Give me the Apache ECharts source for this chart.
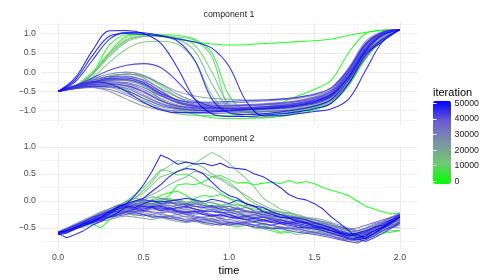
<!DOCTYPE html>
<html><head><meta charset="utf-8">
<script src="https://cdn.jsdelivr.net/npm/echarts@6/dist/echarts.min.js"></script>
<style>html,body{margin:0;padding:0;background:#fff}#c{width:490px;height:280px}</style>
</head><body><div id="c"></div>
<script>
// ---------- data ----------
const iterations = [0,1000,2000,5000,7000,9000,12000,15000,18000,20000,21000,22000,24000,26000,27000,28000,30000,31000,32000,34000,35000,36000,37000,38000,39000,40000,41000,42000,43000,44000,45000,47000,48000,49000,50000];
const time1 = [0,0.1,0.2,0.3,0.4,0.5,0.6,0.7,0.8,0.9,1,1.1,1.2,1.3,1.4,1.5,1.6,1.7,1.8,1.9,2];
const time2 = [0,0.05,0.1,0.15,0.2,0.25,0.3,0.35,0.4,0.45,0.5,0.55,0.6,0.65,0.7,0.75,0.8,0.85,0.9,0.95,1,1.05,1.1,1.15,1.2,1.25,1.3,1.35,1.4,1.45,1.5,1.55,1.6,1.65,1.7,1.75,1.8,1.85,1.9,1.95,2];
const xTickLabels = [0,0.5,1,1.5,2];
const xMinor = [0.25,0.75,1.25,1.75];
const y1Labels = [-1,-0.5,0,0.5,1];
const y1Minor = [-1.25,-0.75,-0.25,0.25,0.75,1.25];
const y2Labels = [-0.5,0,0.5,1];
const y2Minor = [-0.75,-0.25,0.25,0.75];
const legendLabels = [0,10000,20000,30000,40000,50000];

// component 1 (one array per iteration)
const c1_0     = [-0.5,-0.38,-0.05,0.7,0.97,0.98,0.93,0.85,0.78,0.73,0.7,0.71,0.74,0.76,0.79,0.81,0.86,0.95,1.03,1.08,1.1];
const c1_1000  = [-0.5,-0.37,-0.08,0.5,0.92,0.98,0.97,0.95,0.85,0.5,-0.6,-0.95,-0.92,-0.8,-0.62,-0.45,-0.2,0.5,1.0,1.09,1.1];
const c1_2000  = [-0.5,-0.4,-0.3,-0.2,-0.2,-0.35,-0.7,-0.95,-1.1,-1.18,-1.2,-1.2,-1.19,-1.15,-1.08,-0.98,-0.8,-0.35,0.35,0.85,1.1];
const c1_5000  = [-0.5,-0.42,-0.3,-0.15,-0.05,-0.1,-0.35,-0.65,-0.85,-0.95,-1.0,-1.0,-0.98,-0.95,-0.9,-0.82,-0.65,-0.15,0.55,0.88,1.1];
const c1_7000  = [-0.5,-0.42,-0.35,-0.35,-0.45,-0.7,-0.95,-1.08,-1.12,-1.13,-1.12,-1.1,-1.08,-1.05,-1.0,-0.92,-0.75,-0.3,0.35,0.85,1.1];
const c1_9000  = [-0.5,-0.35,0.0,0.5,0.85,0.95,0.93,0.88,0.7,0.0,-0.85,-1.05,-1.08,-1.05,-1.0,-0.9,-0.7,-0.15,0.6,0.95,1.1];
const c1_12000 = [-0.5,-0.38,-0.15,0.25,0.6,0.78,0.8,0.72,0.3,-0.6,-1.05,-1.15,-1.15,-1.1,-1.02,-0.92,-0.75,-0.3,0.45,0.85,1.1];
const c1_15000 = [-0.5,-0.36,-0.05,0.45,0.82,0.93,0.94,0.9,0.82,0.4,-0.95,-1.15,-1.18,-1.12,-1.05,-0.95,-0.8,-0.3,0.45,0.85,1.1];
const c1_18000 = [-0.5,-0.37,-0.05,0.4,0.78,0.92,0.95,0.85,0.55,-0.3,-0.95,-1.1,-1.1,-1.05,-0.98,-0.9,-0.75,-0.3,0.4,0.8,1.1];
const c1_20000 = [-0.5,-0.4,-0.3,-0.25,-0.3,-0.5,-0.75,-0.9,-0.95,-0.97,-0.98,-0.97,-0.95,-0.92,-0.87,-0.78,-0.6,-0.1,0.6,0.98,1.1];
const c1_21000 = [-0.5,-0.38,-0.22,-0.1,-0.05,-0.12,-0.3,-0.5,-0.62,-0.68,-0.7,-0.72,-0.72,-0.7,-0.66,-0.58,-0.4,0.1,0.75,1.03,1.1];
const c1_22000 = [-0.5,-0.38,-0.2,-0.1,-0.05,-0.15,-0.45,-0.75,-0.88,-0.92,-0.93,-0.93,-0.92,-0.9,-0.85,-0.75,-0.55,0.0,0.7,1.02,1.1];
const c1_24000 = [-0.5,-0.43,-0.38,-0.4,-0.55,-0.75,-0.9,-0.98,-1.02,-1.03,-1.03,-1.02,-1.0,-0.98,-0.93,-0.85,-0.68,-0.2,0.45,0.92,1.1];
const c1_26000 = [-0.5,-0.4,-0.28,-0.2,-0.22,-0.35,-0.6,-0.8,-0.88,-0.9,-0.88,-0.86,-0.84,-0.8,-0.74,-0.64,-0.45,0.1,0.8,1.05,1.1];
const c1_27000 = [-0.5,-0.42,-0.4,-0.5,-0.7,-0.88,-0.97,-1.0,-1.0,-0.98,-0.95,-0.93,-0.9,-0.87,-0.82,-0.72,-0.55,-0.05,0.62,1.0,1.1];
const c1_28000 = [-0.5,-0.41,-0.33,-0.3,-0.38,-0.58,-0.8,-0.92,-0.97,-0.98,-0.97,-0.95,-0.93,-0.9,-0.85,-0.76,-0.58,-0.05,0.65,1.0,1.1];
const c1_30000 = [-0.5,-0.39,-0.25,-0.15,-0.12,-0.2,-0.42,-0.65,-0.78,-0.85,-0.87,-0.87,-0.86,-0.84,-0.8,-0.72,-0.55,-0.05,0.6,0.98,1.1];
const c1_31000 = [-0.5,-0.37,-0.18,-0.05,0.0,-0.08,-0.3,-0.58,-0.75,-0.82,-0.8,-0.78,-0.75,-0.72,-0.68,-0.6,-0.45,0.05,0.72,1.02,1.1];
const c1_32000 = [-0.5,-0.42,-0.35,-0.32,-0.35,-0.5,-0.72,-0.88,-0.95,-1.0,-1.02,-1.03,-1.02,-1.0,-0.96,-0.88,-0.72,-0.25,0.4,0.9,1.1];
const c1_34000 = [-0.5,-0.4,-0.3,-0.22,-0.2,-0.3,-0.55,-0.78,-0.88,-0.9,-0.9,-0.88,-0.85,-0.82,-0.77,-0.68,-0.5,0.03,0.72,1.03,1.1];
const c1_35000 = [-0.5,-0.43,-0.4,-0.45,-0.6,-0.8,-0.95,-1.03,-1.06,-1.07,-1.06,-1.05,-1.03,-1.0,-0.96,-0.88,-0.72,-0.28,0.38,0.88,1.1];
const c1_36000 = [-0.5,-0.41,-0.32,-0.28,-0.3,-0.45,-0.68,-0.85,-0.92,-0.95,-0.95,-0.94,-0.92,-0.88,-0.83,-0.73,-0.55,-0.03,0.67,1.01,1.1];
const c1_37000 = [-0.5,-0.39,-0.27,-0.18,-0.15,-0.25,-0.5,-0.72,-0.82,-0.85,-0.85,-0.84,-0.82,-0.79,-0.74,-0.65,-0.48,0.05,0.75,1.04,1.1];
const c1_38000 = [-0.5,-0.42,-0.36,-0.35,-0.42,-0.62,-0.82,-0.93,-0.98,-1.0,-1.0,-0.99,-0.97,-0.95,-0.9,-0.82,-0.65,-0.15,0.52,0.95,1.1];
const c1_39000 = [-0.5,-0.4,-0.3,-0.25,-0.27,-0.4,-0.62,-0.78,-0.85,-0.87,-0.87,-0.86,-0.84,-0.81,-0.76,-0.67,-0.5,0.0,0.7,1.02,1.1];
const c1_40000 = [-0.5,-0.38,-0.22,-0.12,-0.1,-0.22,-0.5,-0.75,-0.87,-0.92,-0.94,-0.94,-0.93,-0.91,-0.87,-0.79,-0.62,-0.13,0.55,0.96,1.1];
const c1_41000 = [-0.5,-0.41,-0.33,-0.3,-0.35,-0.52,-0.74,-0.88,-0.93,-0.95,-0.94,-0.92,-0.9,-0.86,-0.8,-0.7,-0.52,0.0,0.7,1.02,1.1];
const c1_42000 = [-0.5,-0.4,-0.28,-0.2,-0.2,-0.32,-0.58,-0.8,-0.9,-0.93,-0.93,-0.92,-0.9,-0.87,-0.82,-0.73,-0.56,-0.05,0.63,1.0,1.1];
const c1_43000 = [-0.5,-0.42,-0.37,-0.38,-0.48,-0.68,-0.86,-0.95,-0.99,-1.0,-0.99,-0.97,-0.95,-0.92,-0.87,-0.78,-0.6,-0.1,0.6,0.98,1.1];
const c1_44000 = [-0.5,-0.4,-0.26,-0.16,-0.15,-0.28,-0.55,-0.72,-0.78,-0.78,-0.76,-0.74,-0.72,-0.7,-0.65,-0.57,-0.4,0.08,0.73,1.03,1.1];
const c1_45000 = [-0.5,-0.35,-0.15,0.05,0.18,0.22,0.12,-0.25,-0.7,-0.9,-0.95,-0.96,-0.95,-0.93,-0.88,-0.8,-0.62,-0.13,0.57,0.97,1.1];
const c1_47000 = [-0.5,-0.35,-0.25,-0.3,-0.5,-0.78,-0.98,-1.05,-1.05,-1.03,-1.0,-0.97,-0.94,-0.9,-0.85,-0.76,-0.58,-0.12,0.55,0.97,1.1];
const c1_48000 = [-0.5,-0.25,0.3,0.85,1.03,1.02,0.95,0.8,0.3,-0.7,-1.05,-1.1,-1.08,-1.03,-0.97,-0.88,-0.7,-0.2,0.5,0.85,1.1];
const c1_49000 = [-0.5,-0.2,0.42,0.93,1.0,0.98,0.93,0.86,0.78,0.62,0.15,-0.75,-1.13,-1.13,-1.08,-1.02,-0.95,-0.7,0.05,0.8,1.1];
const c1_50000 = [-0.5,-0.15,0.55,1.07,1.08,1.0,0.75,0.1,-0.7,-1.08,-1.15,-1.15,-1.12,-1.08,-1.03,-0.95,-0.8,-0.3,0.45,0.8,1.1];

// component 2 (one array per iteration)
const c2_0     = [-0.6,-0.55,-0.5,-0.45,-0.42,-0.5,-0.35,-0.25,-0.15,-0.05,-0.03,-0.08,-0.02,0.1,0.3,0.32,0.3,0.35,0.45,0.47,0.4,0.33,0.34,0.3,0.33,0.35,0.32,0.38,0.33,0.36,0.32,0.25,0.2,0.15,0.1,0.0,-0.1,-0.15,-0.2,-0.24,-0.22];
const c2_1000  = [-0.62,-0.58,-0.5,-0.48,-0.4,-0.35,-0.3,-0.22,-0.15,-0.1,-0.05,0.02,0.1,0.15,0.18,0.1,0.0,-0.05,-0.1,-0.08,-0.15,-0.2,-0.28,-0.35,-0.45,-0.5,-0.58,-0.55,-0.5,-0.48,-0.52,-0.55,-0.6,-0.65,-0.7,-0.72,-0.7,-0.62,-0.55,-0.45,-0.38];
const c2_2000  = [-0.6,-0.55,-0.5,-0.45,-0.38,-0.32,-0.28,-0.2,-0.12,-0.08,-0.05,-0.08,-0.02,0.0,-0.05,-0.08,0.05,0.1,0.08,0.12,0.05,0.0,-0.05,-0.1,-0.18,-0.22,-0.3,-0.32,-0.38,-0.42,-0.45,-0.5,-0.55,-0.58,-0.62,-0.68,-0.6,-0.55,-0.5,-0.45,-0.4];
const c2_5000  = [-0.6,-0.52,-0.45,-0.38,-0.3,-0.24,-0.15,-0.08,-0.02,0.0,0.03,-0.02,0.02,0.05,0.0,-0.03,-0.05,0.0,-0.04,-0.08,-0.1,-0.06,-0.12,-0.15,-0.18,-0.2,-0.25,-0.22,-0.28,-0.33,-0.35,-0.4,-0.45,-0.5,-0.55,-0.6,-0.58,-0.5,-0.47,-0.4,-0.38];
const c2_7000  = [-0.6,-0.55,-0.5,-0.42,-0.35,-0.3,-0.25,-0.2,-0.22,-0.28,-0.25,-0.3,-0.32,-0.28,-0.35,-0.38,-0.35,-0.4,-0.38,-0.42,-0.45,-0.48,-0.45,-0.5,-0.52,-0.55,-0.6,-0.58,-0.62,-0.6,-0.58,-0.55,-0.6,-0.65,-0.7,-0.75,-0.72,-0.65,-0.6,-0.58,-0.55];
const c2_9000  = [-0.58,-0.52,-0.46,-0.4,-0.35,-0.3,-0.22,-0.12,0.0,0.12,0.25,0.4,0.58,0.55,0.48,0.5,0.42,0.3,0.25,0.15,0.05,-0.05,-0.1,-0.2,-0.25,-0.3,-0.35,-0.4,-0.45,-0.48,-0.5,-0.55,-0.6,-0.65,-0.7,-0.68,-0.65,-0.6,-0.58,-0.55,-0.55];
const c2_12000 = [-0.58,-0.52,-0.45,-0.38,-0.35,-0.28,-0.2,-0.1,0.0,0.05,0.15,0.3,0.45,0.5,0.55,0.62,0.7,0.8,0.9,0.82,0.7,0.55,0.42,0.25,0.05,-0.05,-0.15,-0.2,-0.28,-0.3,-0.35,-0.4,-0.45,-0.5,-0.55,-0.6,-0.58,-0.52,-0.45,-0.4,-0.35];
const c2_15000 = [-0.6,-0.55,-0.48,-0.42,-0.36,-0.3,-0.22,-0.15,-0.05,0.05,0.2,0.35,0.55,0.65,0.75,0.72,0.7,0.62,0.5,0.42,0.35,0.22,0.05,-0.05,-0.12,-0.18,-0.22,-0.28,-0.3,-0.35,-0.4,-0.42,-0.48,-0.52,-0.55,-0.58,-0.55,-0.5,-0.45,-0.4,-0.35];
const c2_18000 = [-0.6,-0.54,-0.47,-0.4,-0.34,-0.28,-0.2,-0.12,-0.05,0.0,0.05,0.12,0.2,0.3,0.38,0.45,0.55,0.52,0.45,0.4,0.3,0.2,0.1,0.0,-0.08,-0.15,-0.2,-0.25,-0.3,-0.36,-0.42,-0.48,-0.55,-0.6,-0.65,-0.62,-0.6,-0.55,-0.5,-0.48,-0.5];
const c2_20000 = [-0.58,-0.5,-0.44,-0.36,-0.3,-0.22,-0.18,-0.1,-0.08,-0.12,-0.05,-0.1,-0.15,-0.12,-0.2,-0.18,-0.25,-0.22,-0.28,-0.25,-0.3,-0.27,-0.32,-0.3,-0.35,-0.33,-0.38,-0.4,-0.42,-0.45,-0.48,-0.5,-0.55,-0.58,-0.62,-0.6,-0.58,-0.5,-0.45,-0.4,-0.35];
const c2_21000 = [-0.58,-0.5,-0.42,-0.35,-0.28,-0.2,-0.15,-0.08,-0.02,0.05,0.02,0.08,0.05,0.0,0.03,-0.02,0.0,-0.05,-0.02,-0.08,-0.05,-0.1,-0.08,-0.12,-0.15,-0.18,-0.2,-0.22,-0.25,-0.3,-0.32,-0.35,-0.4,-0.45,-0.5,-0.55,-0.52,-0.45,-0.4,-0.35,-0.3];
const c2_22000 = [-0.62,-0.55,-0.48,-0.42,-0.35,-0.3,-0.22,-0.2,-0.15,-0.1,-0.08,-0.05,-0.1,-0.08,-0.12,-0.1,-0.15,-0.18,-0.15,-0.2,-0.22,-0.2,-0.25,-0.28,-0.25,-0.3,-0.32,-0.35,-0.38,-0.4,-0.45,-0.48,-0.52,-0.55,-0.6,-0.65,-0.62,-0.55,-0.48,-0.42,-0.35];
const c2_24000 = [-0.6,-0.52,-0.45,-0.4,-0.32,-0.25,-0.2,-0.12,-0.05,0.0,-0.02,0.02,-0.05,-0.1,-0.08,-0.12,-0.1,-0.15,-0.12,-0.18,-0.15,-0.2,-0.22,-0.25,-0.28,-0.3,-0.28,-0.32,-0.35,-0.38,-0.42,-0.45,-0.5,-0.55,-0.58,-0.55,-0.52,-0.45,-0.4,-0.32,-0.25];
const c2_26000 = [-0.6,-0.55,-0.5,-0.42,-0.38,-0.32,-0.25,-0.22,-0.18,-0.2,-0.22,-0.25,-0.22,-0.28,-0.3,-0.28,-0.32,-0.3,-0.35,-0.32,-0.38,-0.35,-0.4,-0.38,-0.42,-0.45,-0.42,-0.48,-0.5,-0.52,-0.55,-0.58,-0.62,-0.65,-0.7,-0.68,-0.62,-0.55,-0.5,-0.45,-0.4];
const c2_27000 = [-0.62,-0.58,-0.52,-0.48,-0.42,-0.38,-0.35,-0.3,-0.28,-0.3,-0.32,-0.35,-0.3,-0.35,-0.38,-0.4,-0.38,-0.42,-0.45,-0.42,-0.45,-0.4,-0.42,-0.45,-0.48,-0.45,-0.5,-0.52,-0.5,-0.55,-0.58,-0.6,-0.62,-0.65,-0.68,-0.72,-0.68,-0.62,-0.55,-0.5,-0.45];
const c2_28000 = [-0.58,-0.52,-0.45,-0.38,-0.3,-0.25,-0.18,-0.12,-0.08,-0.05,-0.08,-0.1,-0.05,-0.08,-0.12,-0.1,-0.05,-0.08,-0.12,-0.15,-0.1,-0.15,-0.18,-0.2,-0.22,-0.25,-0.3,-0.28,-0.32,-0.35,-0.38,-0.42,-0.45,-0.5,-0.52,-0.55,-0.5,-0.45,-0.38,-0.3,-0.22];
const c2_30000 = [-0.62,-0.56,-0.5,-0.45,-0.4,-0.35,-0.3,-0.25,-0.22,-0.2,-0.18,-0.22,-0.25,-0.28,-0.25,-0.3,-0.35,-0.38,-0.35,-0.4,-0.42,-0.45,-0.42,-0.45,-0.48,-0.5,-0.48,-0.5,-0.52,-0.55,-0.58,-0.6,-0.65,-0.7,-0.72,-0.75,-0.7,-0.62,-0.55,-0.48,-0.4];
const c2_31000 = [-0.6,-0.52,-0.44,-0.38,-0.3,-0.22,-0.15,-0.08,-0.05,-0.08,-0.02,0.0,0.05,0.02,0.0,-0.05,-0.02,-0.08,-0.12,-0.1,-0.15,-0.12,-0.18,-0.22,-0.2,-0.25,-0.28,-0.3,-0.35,-0.38,-0.4,-0.45,-0.48,-0.52,-0.55,-0.58,-0.55,-0.48,-0.4,-0.32,-0.25];
const c2_32000 = [-0.6,-0.53,-0.46,-0.38,-0.33,-0.26,-0.2,-0.15,-0.1,-0.12,-0.08,-0.05,-0.08,-0.02,-0.05,-0.08,-0.1,-0.12,-0.1,-0.15,-0.18,-0.2,-0.18,-0.22,-0.25,-0.22,-0.28,-0.3,-0.32,-0.35,-0.4,-0.42,-0.45,-0.48,-0.52,-0.55,-0.5,-0.42,-0.38,-0.3,-0.25];
const c2_34000 = [-0.6,-0.55,-0.48,-0.4,-0.35,-0.28,-0.22,-0.18,-0.15,-0.18,-0.2,-0.15,-0.18,-0.2,-0.22,-0.25,-0.22,-0.25,-0.28,-0.3,-0.28,-0.32,-0.3,-0.35,-0.38,-0.35,-0.4,-0.42,-0.45,-0.48,-0.5,-0.52,-0.58,-0.6,-0.65,-0.62,-0.58,-0.52,-0.45,-0.38,-0.3];
const c2_35000 = [-0.6,-0.56,-0.5,-0.46,-0.4,-0.36,-0.3,-0.26,-0.22,-0.25,-0.28,-0.25,-0.3,-0.32,-0.3,-0.35,-0.38,-0.35,-0.32,-0.38,-0.4,-0.42,-0.4,-0.45,-0.48,-0.5,-0.52,-0.5,-0.55,-0.58,-0.6,-0.62,-0.65,-0.7,-0.75,-0.72,-0.68,-0.6,-0.55,-0.48,-0.42];
const c2_36000 = [-0.62,-0.55,-0.48,-0.42,-0.35,-0.28,-0.22,-0.15,-0.12,-0.08,-0.1,-0.12,-0.15,-0.12,-0.18,-0.15,-0.2,-0.18,-0.15,-0.2,-0.25,-0.22,-0.28,-0.3,-0.28,-0.33,-0.35,-0.38,-0.4,-0.42,-0.45,-0.5,-0.52,-0.55,-0.6,-0.65,-0.6,-0.52,-0.45,-0.38,-0.32];
const c2_37000 = [-0.6,-0.54,-0.48,-0.42,-0.38,-0.32,-0.28,-0.25,-0.2,-0.22,-0.25,-0.28,-0.3,-0.28,-0.32,-0.35,-0.32,-0.35,-0.38,-0.35,-0.4,-0.38,-0.42,-0.45,-0.42,-0.45,-0.48,-0.5,-0.52,-0.55,-0.58,-0.62,-0.65,-0.68,-0.72,-0.7,-0.65,-0.6,-0.52,-0.45,-0.38];
const c2_38000 = [-0.58,-0.52,-0.45,-0.4,-0.32,-0.28,-0.2,-0.15,-0.1,-0.05,-0.02,-0.05,0.0,-0.05,-0.02,-0.08,-0.05,-0.1,-0.08,-0.12,-0.1,-0.15,-0.12,-0.18,-0.2,-0.22,-0.25,-0.28,-0.3,-0.32,-0.35,-0.38,-0.42,-0.48,-0.52,-0.5,-0.45,-0.4,-0.35,-0.3,-0.25];
const c2_39000 = [-0.6,-0.55,-0.5,-0.43,-0.38,-0.3,-0.25,-0.2,-0.18,-0.15,-0.18,-0.2,-0.22,-0.2,-0.25,-0.22,-0.28,-0.3,-0.28,-0.32,-0.35,-0.3,-0.35,-0.32,-0.38,-0.4,-0.38,-0.42,-0.45,-0.48,-0.5,-0.55,-0.6,-0.62,-0.68,-0.72,-0.65,-0.58,-0.5,-0.42,-0.35];
const c2_40000 = [-0.62,-0.56,-0.5,-0.45,-0.38,-0.32,-0.28,-0.22,-0.18,-0.2,-0.15,-0.12,-0.15,-0.18,-0.2,-0.25,-0.3,-0.32,-0.38,-0.42,-0.45,-0.42,-0.38,-0.4,-0.42,-0.45,-0.4,-0.42,-0.45,-0.48,-0.5,-0.52,-0.55,-0.58,-0.62,-0.65,-0.6,-0.55,-0.48,-0.4,-0.33];
const c2_41000 = [-0.6,-0.54,-0.47,-0.4,-0.34,-0.27,-0.22,-0.15,-0.1,-0.08,-0.12,-0.1,-0.08,-0.12,-0.15,-0.12,-0.15,-0.18,-0.2,-0.22,-0.2,-0.25,-0.28,-0.25,-0.3,-0.32,-0.35,-0.38,-0.36,-0.4,-0.45,-0.48,-0.52,-0.58,-0.62,-0.6,-0.55,-0.5,-0.42,-0.35,-0.28];
const c2_42000 = [-0.6,-0.55,-0.5,-0.44,-0.38,-0.34,-0.3,-0.28,-0.25,-0.22,-0.25,-0.3,-0.28,-0.32,-0.35,-0.38,-0.35,-0.4,-0.42,-0.45,-0.4,-0.42,-0.45,-0.48,-0.5,-0.52,-0.5,-0.55,-0.58,-0.6,-0.62,-0.65,-0.68,-0.72,-0.75,-0.78,-0.72,-0.65,-0.55,-0.48,-0.4];
const c2_43000 = [-0.62,-0.55,-0.48,-0.4,-0.33,-0.25,-0.2,-0.12,-0.08,-0.02,0.02,0.0,-0.05,-0.02,-0.08,-0.05,-0.1,-0.12,-0.1,-0.15,-0.18,-0.15,-0.2,-0.22,-0.25,-0.28,-0.3,-0.32,-0.35,-0.4,-0.42,-0.45,-0.5,-0.55,-0.6,-0.62,-0.58,-0.5,-0.42,-0.35,-0.28];
const c2_44000 = [-0.58,-0.52,-0.45,-0.38,-0.3,-0.25,-0.18,-0.15,-0.1,-0.12,-0.15,-0.1,-0.12,-0.15,-0.18,-0.2,-0.18,-0.22,-0.25,-0.28,-0.25,-0.3,-0.28,-0.32,-0.35,-0.38,-0.35,-0.4,-0.42,-0.45,-0.48,-0.52,-0.55,-0.6,-0.65,-0.68,-0.62,-0.55,-0.48,-0.38,-0.3];
const c2_45000 = [-0.6,-0.58,-0.52,-0.45,-0.4,-0.35,-0.3,-0.25,-0.2,-0.15,-0.18,-0.12,-0.1,-0.15,-0.12,-0.1,-0.15,-0.2,-0.18,-0.22,-0.25,-0.3,-0.35,-0.32,-0.3,-0.35,-0.4,-0.42,-0.38,-0.42,-0.45,-0.5,-0.55,-0.62,-0.68,-0.7,-0.75,-0.68,-0.6,-0.5,-0.42];
const c2_47000 = [-0.6,-0.55,-0.48,-0.42,-0.35,-0.3,-0.22,-0.18,-0.12,-0.15,-0.1,-0.12,-0.18,-0.15,-0.2,-0.22,-0.2,-0.25,-0.28,-0.25,-0.3,-0.32,-0.35,-0.38,-0.35,-0.4,-0.42,-0.45,-0.48,-0.5,-0.52,-0.55,-0.6,-0.65,-0.7,-0.72,-0.68,-0.6,-0.5,-0.4,-0.3];
const c2_48000 = [-0.6,-0.68,-0.62,-0.55,-0.45,-0.38,-0.3,-0.22,-0.1,-0.12,-0.05,0.0,-0.02,0.0,0.02,0.05,0.02,-0.02,0.03,0.0,-0.05,0.02,-0.05,-0.1,-0.12,-0.2,-0.25,-0.3,-0.32,-0.35,-0.4,-0.45,-0.5,-0.58,-0.62,-0.6,-0.55,-0.48,-0.45,-0.35,-0.25];
const c2_49000 = [-0.62,-0.6,-0.52,-0.45,-0.4,-0.32,-0.25,-0.12,-0.05,0.0,0.05,0.18,0.3,0.45,0.55,0.6,0.58,0.5,0.35,0.2,0.1,0.05,-0.05,-0.1,-0.2,-0.25,-0.3,-0.32,-0.38,-0.4,-0.48,-0.5,-0.55,-0.6,-0.65,-0.62,-0.7,-0.6,-0.5,-0.42,-0.28];
const c2_50000 = [-0.58,-0.55,-0.5,-0.42,-0.38,-0.3,-0.2,-0.1,-0.05,0.1,0.3,0.55,0.85,0.78,0.68,0.72,0.68,0.7,0.65,0.7,0.62,0.6,0.58,0.5,0.45,0.35,0.25,0.12,0.05,0.02,-0.05,-0.15,-0.3,-0.42,-0.55,-0.68,-0.65,-0.55,-0.48,-0.38,-0.3];

const comp1 = [c1_0,c1_1000,c1_2000,c1_5000,c1_7000,c1_9000,c1_12000,c1_15000,c1_18000,c1_20000,c1_21000,c1_22000,c1_24000,c1_26000,c1_27000,c1_28000,c1_30000,c1_31000,c1_32000,c1_34000,c1_35000,c1_36000,c1_37000,c1_38000,c1_39000,c1_40000,c1_41000,c1_42000,c1_43000,c1_44000,c1_45000,c1_47000,c1_48000,c1_49000,c1_50000];
const comp2 = [c2_0,c2_1000,c2_2000,c2_5000,c2_7000,c2_9000,c2_12000,c2_15000,c2_18000,c2_20000,c2_21000,c2_22000,c2_24000,c2_26000,c2_27000,c2_28000,c2_30000,c2_31000,c2_32000,c2_34000,c2_35000,c2_36000,c2_37000,c2_38000,c2_39000,c2_40000,c2_41000,c2_42000,c2_43000,c2_44000,c2_45000,c2_47000,c2_48000,c2_49000,c2_50000];

if (comp1.length !== iterations.length || comp2.length !== iterations.length) throw new Error('series count');
comp1.forEach((a,i)=>{ if (a.length!==time1.length) throw new Error('comp1 length '+iterations[i]+' '+a.length); });
comp2.forEach((a,i)=>{ if (a.length!==time2.length) throw new Error('comp2 length '+iterations[i]+' '+a.length); });

// ---------- chart ----------
const FONT = '"Liberation Sans", Arial, sans-serif';
const gradStops = ['#00FF00','#70C972','#7D93A5','#6D5CD4','#0000FF'];
const colorOf = it => echarts.color.lerp(it/50000, gradStops);
const minus = v => (v < 0 ? '\u2212' : '') + Math.abs(v).toFixed(1);

const G1 = {left:41, width:376, top:22.7, height:102.3};
const G2 = {left:41, width:376, top:146.7, height:102.3};
const G3 = {left:433, width:18, top:100.7, height:83.3};

function xAx(grid, labels, minor){
  return {
    type:'value', gridIndex:grid, min:-0.1, max:2.1,
    axisLine:{show:false},
    axisTick:{show:false, customValues: minor ? xMinor : xTickLabels},
    axisLabel:{show: labels, customValues: xTickLabels, formatter: minus, color:'#4D4D4D', fontSize:8.8, fontFamily:FONT, margin:4.5},
    splitLine:{show:true, lineStyle:{color: minor ? '#F4F4F4' : '#EBEBEB', width:1}}
  };
}
function yAx(grid, min, max, labelVals, minorVals, minor){
  return {
    type:'value', gridIndex:grid, min:min, max:max,
    axisLine:{show:false},
    axisTick:{show:false, customValues: minor ? minorVals : labelVals},
    axisLabel:{show: !minor, customValues: labelVals, formatter: minus, color:'#4D4D4D', fontSize:8.8, fontFamily:FONT, margin:5},
    splitLine:{show:true, lineStyle:{color: minor ? '#F4F4F4' : '#EBEBEB', width:1}}
  };
}

const series = [];
iterations.forEach((it, i) => {
  series.push({
    type:'line', xAxisIndex:0, yAxisIndex:0, silent:true, animation:false,
    showSymbol:false, smooth:0.35, z:2,
    data: time1.map((t,k)=>[t, comp1[i][k]]),
    lineStyle:{color:colorOf(it), width:1.05, opacity:0.85}
  });
});
iterations.forEach((it, i) => {
  series.push({
    type:'line', xAxisIndex:2, yAxisIndex:2, silent:true, animation:false,
    showSymbol:false, smooth:false, z:2,
    data: time2.map((t,k)=>[t, comp2[i][k]]),
    lineStyle:{color:colorOf(it), width:1.05, opacity:0.85}
  });
});
const dummyIndex = series.length;
series.push({type:'scatter', xAxisIndex:4, yAxisIndex:4, data:[], silent:true});

const chart = echarts.init(document.getElementById('c'), null, {renderer:'canvas'});
chart.setOption({
  animation:false,
  backgroundColor:'#ffffff',
  grid:[
    Object.assign({containLabel:false}, G1),
    Object.assign({containLabel:false}, G2),
    Object.assign({containLabel:false}, G3)
  ],
  xAxis:[
    xAx(0,false,false), xAx(0,false,true),
    xAx(1,true,false), xAx(1,false,true),
    {type:'value', gridIndex:2, show:false, min:0, max:1}
  ],
  yAxis:[
    yAx(0,-1.37,1.28,y1Labels,y1Minor,false), yAx(0,-1.37,1.28,y1Labels,y1Minor,true),
    yAx(1,-0.89,1.005,y2Labels,y2Minor,false), yAx(1,-0.89,1.005,y2Labels,y2Minor,true),
    {type:'value', gridIndex:2, position:'right', min:-1700, max:51700, z:10,
     axisLine:{show:false}, splitLine:{show:false},
     axisTick:{show:true, inside:true, length:3.6, customValues:legendLabels, lineStyle:{color:'#ffffff', width:1}},
     axisLabel:{show:true, customValues:legendLabels, formatter: v => String(v), margin:3.5, color:'#1A1A1A', fontSize:8.8, fontFamily:FONT}},
    {type:'value', gridIndex:2, position:'left', min:-1700, max:51700, z:10,
     axisLine:{show:false}, splitLine:{show:false},
     axisTick:{show:true, inside:true, length:3.6, customValues:legendLabels, lineStyle:{color:'#ffffff', width:1}},
     axisLabel:{show:false}}
  ],
  visualMap:{
    type:'continuous', seriesIndex:dummyIndex, min:-1700, max:51700,
    left:G3.left, top:G3.top, itemWidth:G3.width, itemHeight:G3.height,
    padding:0, calculable:false, hoverLink:false, text:null,
    inRange:{color:gradStops}
  },
  graphic:[
    {type:'text', x:229, y:14.5, silent:true, style:{text:'component 1', fill:'#1A1A1A', fontSize:8.8, fontFamily:FONT, align:'center', verticalAlign:'middle'}},
    {type:'text', x:229, y:139, silent:true, style:{text:'component 2', fill:'#1A1A1A', fontSize:8.8, fontFamily:FONT, align:'center', verticalAlign:'middle'}},
    {type:'text', x:229, y:271, silent:true, style:{text:'time', fill:'#000000', fontSize:11, fontFamily:FONT, align:'center', verticalAlign:'middle'}},
    {type:'text', x:433, y:93, silent:true, style:{text:'iteration', fill:'#000000', fontSize:11, fontFamily:FONT, align:'left', verticalAlign:'middle'}}
  ],
  series: series
});
</script>
</body></html>
